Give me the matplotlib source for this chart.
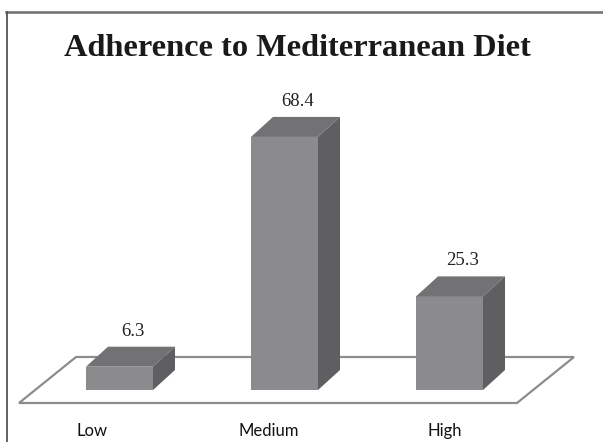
import matplotlib
matplotlib.use("Agg")
import matplotlib.pyplot as plt
from matplotlib.patches import Polygon
import numpy as np

categories = ["Low", "Medium", "High"]
values = [6.3, 68.4, 25.3]
value_labels = ["6.3", "68.4", "25.3"]
title = "Adherence to Mediterranean Diet"

W, H = 603, 442
fig = plt.figure(figsize=(W / 100, H / 100), dpi=100)
ax = fig.add_axes([0, 0, 1, 1])

# pixel-to-data scale helpers (layout only)
px_x = 165.0          # pixels per category step
px_y = 3.7            # pixels per value unit
x0_px, y0_px = 119.5, 390.0
ax.set_xlim(-x0_px / px_x, (W - x0_px) / px_x)
ax.set_ylim(-(H - y0_px) / px_y, y0_px / px_y)
ax.axis("off")

def dx(p):
    return p / px_x

def dy(p):
    return p / px_y

# outer frame (top and left lines)
fig.add_artist(plt.Line2D([6 / W, 1], [1 - 12 / H, 1 - 12 / H], transform=fig.transFigure,
                          color="#6f6f6f", lw=1.8))
fig.add_artist(plt.Line2D([6.5 / W, 6.5 / W], [0, 1 - 12 / H], transform=fig.transFigure,
                          color="#555555", lw=1.3))

# floor parallelogram
fl_y0, fl_depth_x, fl_depth_y = -dy(13), dx(57), dy(46)
fl_x0, fl_x1 = -0.609, 2.409
floor = Polygon([(fl_x0, fl_y0), (fl_x1, fl_y0),
                 (fl_x1 + fl_depth_x, fl_y0 + fl_depth_y),
                 (fl_x0 + fl_depth_x, fl_y0 + fl_depth_y)],
                closed=True, facecolor="white", edgecolor="#8c8c8c", lw=1.6, zorder=1)
ax.add_patch(floor)

# 3D bars
bw = 67 / px_x
ddx, ddy = dx(22), dy(20)
front_c, top_c, side_c = "#8b8b8d", "#727274", "#5f5f61"
xs = np.arange(len(categories))
for x, v, lab in zip(xs, values, value_labels):
    l, r = x - bw / 2, x + bw / 2
    ax.add_patch(Polygon([(l, 0), (r, 0), (r, v), (l, v)], closed=True,
                         facecolor=front_c, edgecolor="none", zorder=3))
    ax.add_patch(Polygon([(l, v), (r, v), (r + ddx, v + ddy), (l + ddx, v + ddy)], closed=True,
                         facecolor=top_c, edgecolor="none", zorder=3))
    ax.add_patch(Polygon([(r, 0), (r + ddx, ddy), (r + ddx, v + ddy), (r, v)], closed=True,
                         facecolor=side_c, edgecolor="none", zorder=3))
    ax.text(x + ddx * 0.6, v + ddy + dy(7), lab, ha="center", va="bottom",
            fontsize=13.5, family="Liberation Serif", color="#222222", zorder=4)

# category labels
for i, c in enumerate(categories):
    ax.text(-0.167 + 1.07 * i, -dy(431 - y0_px), c, ha="center", va="center",
            fontsize=12, family="Lato", color="#111111")

fig.text(297.5 / W, 1 - 48 / H, title, ha="center", va="center",
         fontsize=23.3, fontweight="bold", family="Liberation Serif", color="#1a1a1a")

fig.savefig("out.png", dpi=100, facecolor="white")
